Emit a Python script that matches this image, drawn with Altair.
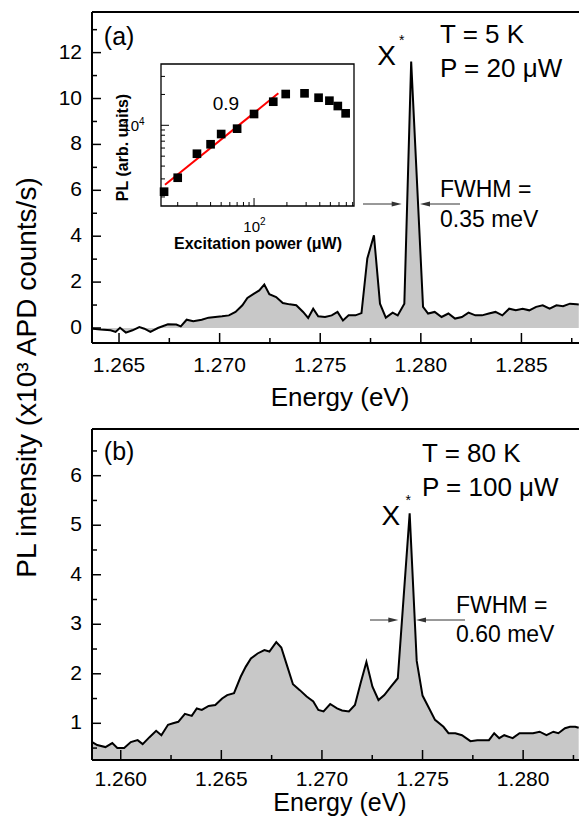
import altair as alt
import pandas as pd

# ---------------- data ----------------
# panel (a): T = 5 K, P = 20 uW
E_A = [1.26369, 1.26408, 1.26458, 1.26483, 1.26505, 1.26534, 1.26567, 1.26601, 1.26626, 1.26656,
       1.26693, 1.26743, 1.26785, 1.26807, 1.26836, 1.26869, 1.26911, 1.26945, 1.26978, 1.27012,
       1.27046, 1.27079, 1.27113, 1.27138, 1.27171, 1.27197, 1.27222, 1.27247, 1.27281, 1.27314,
       1.27348, 1.27381, 1.27415, 1.27440, 1.27465, 1.27490, 1.27524, 1.27557, 1.27586, 1.27613,
       1.27641, 1.27675, 1.27705, 1.27734, 1.27767, 1.27797, 1.27826, 1.27860, 1.27885, 1.27918,
       1.27952, 1.28011, 1.28036, 1.28069, 1.28103, 1.28137, 1.28170, 1.28204, 1.28237, 1.28271,
       1.28304, 1.28338, 1.28371, 1.28405, 1.28439, 1.28472, 1.28506, 1.28539, 1.28573, 1.28606,
       1.28640, 1.28674, 1.28707, 1.28741, 1.28774, 1.28785]
I_A = [-0.03, -0.07, -0.10, -0.17, 0.01, -0.20, -0.10, 0.04, -0.03, -0.17,
       0.00, 0.16, 0.15, 0.07, 0.36, 0.29, 0.36, 0.45, 0.48, 0.51,
       0.55, 0.70, 0.99, 1.31, 1.50, 1.64, 1.89, 1.47, 1.35, 1.09,
       1.03, 0.99, 0.70, 0.44, 0.84, 0.51, 0.48, 0.55, 0.70, 0.33,
       0.55, 0.55, 0.65, 3.03, 4.04, 1.06, 0.45, 0.67, 0.55, 1.06,
       11.61, 0.92, 0.63, 0.70, 0.48, 0.63, 0.41, 0.48, 0.67, 0.55,
       0.55, 0.63, 0.70, 0.55, 0.84, 0.77, 0.84, 0.77, 0.92, 0.99,
       0.84, 0.99, 0.95, 1.06, 1.03, 1.02]

# panel (b): T = 80 K, P = 100 uW
E_B = [1.25858, 1.25883, 1.25924, 1.25958, 1.25983, 1.26017, 1.26050, 1.26084, 1.26109, 1.26143,
       1.26176, 1.26202, 1.26235, 1.26260, 1.26286, 1.26319, 1.26353, 1.26378, 1.26403, 1.26437,
       1.26470, 1.26504, 1.26529, 1.26563, 1.26596, 1.26621, 1.26647, 1.26680, 1.26714, 1.26739,
       1.26773, 1.26798, 1.26823, 1.26856, 1.26890, 1.26924, 1.26957, 1.26982, 1.27008, 1.27041,
       1.27075, 1.27100, 1.27134, 1.27164, 1.27192, 1.27221, 1.27251, 1.27281, 1.27310, 1.27343,
       1.27377, 1.27402, 1.27436, 1.27471, 1.27500, 1.27528, 1.27562, 1.27604, 1.27629, 1.27663,
       1.27696, 1.27738, 1.27772, 1.27805, 1.27830, 1.27856, 1.27881, 1.27906, 1.27948, 1.27982,
       1.28015, 1.28049, 1.28082, 1.28116, 1.28150, 1.28175, 1.28208, 1.28233, 1.28259, 1.28276]
I_B = [0.62, 0.56, 0.52, 0.60, 0.50, 0.50, 0.62, 0.66, 0.58, 0.72,
       0.85, 0.76, 0.97, 1.00, 1.03, 1.19, 1.15, 1.30, 1.27, 1.35,
       1.37, 1.50, 1.57, 1.61, 1.94, 2.14, 2.31, 2.41, 2.48, 2.45,
       2.64, 2.53, 2.21, 1.79, 1.67, 1.54, 1.44, 1.27, 1.24, 1.39,
       1.30, 1.26, 1.24, 1.37, 1.81, 2.24, 1.74, 1.47, 1.57, 1.74,
       1.91, 3.32, 5.24, 2.26, 1.56, 1.34, 1.07, 0.93, 0.80, 0.80,
       0.76, 0.64, 0.66, 0.66, 0.66, 0.80, 0.70, 0.76, 0.70, 0.80,
       0.80, 0.80, 0.83, 0.76, 0.83, 0.80, 0.90, 0.93, 0.93, 0.91]

# inset: PL vs excitation power
POWER = [15, 20, 30, 40, 50, 70, 100, 150, 195, 290, 390, 490, 585, 690]
PL = [2250, 3080, 5280, 6530, 8220, 9270, 12890, 16990, 20190, 20510, 18580, 17380, 15420, 13090]
FIT_P = [15.3, 167]
FIT_PL = [2633, 20510]

# tick values
XA_MAJOR = [1.265, 1.270, 1.275, 1.280, 1.285]
XA_MINOR = [1.2675, 1.2725, 1.2775, 1.2825, 1.2875]
YA_MAJOR = [0, 2, 4, 6, 8, 10, 12]
YA_MINOR = [1, 3, 5, 7, 9, 11, 13]
XB_MAJOR = [1.260, 1.265, 1.270, 1.275, 1.280]
XB_MINOR = [1.2625, 1.2675, 1.2725, 1.2775, 1.2825]
YB_MAJOR = [1, 2, 3, 4, 5, 6]
YB_MINOR = [0.5, 1.5, 2.5, 3.5, 4.5, 5.5, 6.5]
IX_MAJOR = [100]
IX_MINOR = [20, 30, 40, 50, 60, 70, 80, 90, 200, 300, 400, 500, 600, 700, 800]
IY_MAJOR = [10000]
IY_MINOR = [2000, 3000, 4000, 5000, 6000, 7000, 8000, 9000, 20000, 30000]

# ---------------- layout ----------------
W, H = 487, 331
FONT = "Liberation Sans"
ONE = pd.DataFrame({"a": [0]})


def txt(s, x, y, size, align="left", weight="normal", angle=0, baseline="alphabetic"):
    return alt.Chart(pd.DataFrame({"t": [s]})).mark_text(
        font=FONT, fontSize=size, align=align, baseline=baseline, fontWeight=weight,
        angle=angle, color="black"
    ).encode(text="t:N", x=alt.value(x), y=alt.value(y))


def hline(x1, x2, y, width=2, color="black"):
    return alt.Chart(ONE).mark_rule(color=color, strokeWidth=width).encode(
        x=alt.value(x1), x2=alt.value(x2), y=alt.value(y))


def vline(x, y1, y2, width=2, color="black"):
    return alt.Chart(ONE).mark_rule(color=color, strokeWidth=width).encode(
        x=alt.value(x), y=alt.value(y1), y2=alt.value(y2))


def head(x, y, right=True):
    path = "M1,0L-1,-0.5L-1,0.5Z" if right else "M-1,0L1,-0.5L1,0.5Z"
    cx = x - 5 if right else x + 5
    return alt.Chart(ONE).mark_point(shape=path, filled=True, size=100, color="#333333",
                                     opacity=1).encode(x=alt.value(cx), y=alt.value(y))


def xticks(vals, scale, y0, length, width=1.5):
    return alt.Chart(pd.DataFrame({"v": vals})).mark_rule(color="black", strokeWidth=width).encode(
        x=alt.X("v:Q", scale=scale, axis=None), y=alt.value(y0), y2=alt.value(y0 - length))


def yticks(vals, scale, x0, length, width=1.5):
    return alt.Chart(pd.DataFrame({"v": vals})).mark_rule(color="black", strokeWidth=width).encode(
        y=alt.Y("v:Q", scale=scale, axis=None), x=alt.value(x0), x2=alt.value(x0 + length))


def xlabels(vals, scale, pad):
    return alt.Chart(pd.DataFrame({"v": vals})).mark_text(
        font=FONT, fontSize=21, baseline="top", align="center", color="black").encode(
        x=alt.X("v:Q", scale=scale, axis=None), y=alt.value(H + pad),
        text=alt.Text("v:Q", format=".3f"))


def ylabels(vals, scale):
    return alt.Chart(pd.DataFrame({"v": vals})).mark_text(
        font=FONT, fontSize=21, baseline="middle", align="right", color="black").encode(
        y=alt.Y("v:Q", scale=scale, axis=None), x=alt.value(-10),
        text=alt.Text("v:Q", format="d"))


def spectrum(E, I, xdom, ydom, xmaj, xmin, ymaj, ymin, label_pad, title_y, title_size):
    xs = alt.Scale(domain=xdom, nice=False, zero=False)
    ys = alt.Scale(domain=ydom, nice=False, zero=False)
    df = pd.DataFrame({"E": E, "I": I})
    base = alt.Chart(df)
    area = base.mark_area(color="#c8c8c8", clip=True).encode(
        x=alt.X("E:Q", scale=xs, axis=None), y=alt.Y("I:Q", scale=ys, axis=None), y2=alt.value(H))
    line = base.mark_line(color="black", strokeWidth=2, clip=True).encode(
        x=alt.X("E:Q", scale=xs, axis=None), y=alt.Y("I:Q", scale=ys, axis=None))
    ticks = [xticks(xmaj, xs, H, 10), xticks(xmin, xs, H, 5),
             yticks(ymaj, ys, 0, 9), yticks(ymin, ys, 0, 5)]
    labels = [xlabels(xmaj, xs, label_pad), ylabels(ymaj, ys),
              txt("Energy (eV)", 248, H + title_y, title_size, align="center")]
    frame = [vline(0, 0, H), hline(0, W, 0), hline(0, W, H)]
    return alt.layer(area, line, *ticks, *labels, *frame)


# ---------------- panel (a) ----------------
XDOM_A = [1.263657, 1.287861]
main_a = spectrum(E_A, I_A, XDOM_A, [-0.654, 13.77],
                  XA_MAJOR, XA_MINOR, YA_MAJOR, YA_MINOR, 12, 63, 26)

xi = alt.Scale(type="log", domain=[14.06, 823], range=[69, 262], nice=False)
yi = alt.Scale(type="log", domain=[1632, 39630], range=[194, 52], nice=False)

inset_frame = alt.Chart(ONE).mark_rect(fill="white", stroke="black", strokeWidth=1.3).encode(
    x=alt.value(69), x2=alt.value(262), y=alt.value(52), y2=alt.value(194))
fit = alt.Chart(pd.DataFrame({"p": FIT_P, "l": FIT_PL})).mark_line(color="#ff0000", strokeWidth=2).encode(
    x=alt.X("p:Q", scale=xi, axis=None), y=alt.Y("l:Q", scale=yi, axis=None))
pts = alt.Chart(pd.DataFrame({"p": POWER, "l": PL})).mark_point(
    shape="square", filled=True, size=75, color="black", opacity=1).encode(
    x=alt.X("p:Q", scale=xi, axis=None), y=alt.Y("l:Q", scale=yi, axis=None))
inset = alt.layer(
    inset_frame, fit, pts,
    xticks(IX_MAJOR, xi, 194, 8, 1), xticks(IX_MINOR, xi, 194, 4, 1),
    yticks(IY_MAJOR, yi, 69, 8, 1), yticks(IY_MINOR, yi, 69, 4, 1),
    txt("0.9", 120.7, 98, 19),
    txt("10", 168, 220, 15, align="right"), txt("2", 168, 213, 10),
    txt("Excitation power (μW)", 166, 237, 16, align="center", weight="bold"),
    txt("10", 47, 119, 15, align="right"), txt("4", 47, 113, 10),
    txt("PL (arb. units)", 31, 135.5, 16, align="center", weight="bold", angle=270, baseline="middle"),
)

annot_a = alt.layer(
    txt("(a)", 11.8, 33, 25),
    txt("X", 294.7, 53, 28, align="center"),
    txt("*", 309.7, 33, 14, align="center"),
    txt("T = 5 K", 348, 30.7, 26),
    txt("P = 20 μW", 348, 65.3, 26),
    txt("FWHM =", 348, 185.3, 23),
    txt("0.35 meV", 348, 214.7, 23),
    hline(271, 305, 192, 1, "#333333"), head(309.7, 192, True),
    hline(332, 368, 192, 1, "#333333"), head(328, 192, False),
    txt("PL intensity (x10³ APD counts/s)", -64, 365.5, 28, align="center", angle=270, baseline="middle"),
    alt.Chart(ONE).mark_rect(opacity=0).encode(
        x=alt.value(-84), x2=alt.value(W), y=alt.value(-4), y2=alt.value(H)),
)

top = alt.layer(main_a, inset, annot_a).resolve_scale(
    x="independent", y="independent").properties(width=W, height=H)

# ---------------- panel (b) ----------------
XDOM_B = [1.258572, 1.282776]
main_b = spectrum(E_B, I_B, XDOM_B, [0.259, 6.943],
                  XB_MAJOR, XB_MINOR, YB_MAJOR, YB_MINOR, 9, 51, 25)

annot_b = alt.layer(
    txt("(b)", 11.8, 31, 25),
    txt("T = 80 K", 330, 32.7, 26),
    txt("P = 100 μW", 330, 67, 26),
    txt("X", 298.8, 96, 28, align="center"),
    txt("*", 316.3, 75.7, 14, align="center"),
    txt("FWHM =", 364, 183.7, 23),
    txt("0.60 meV", 364, 212.7, 23),
    hline(278, 302, 191, 1, "#333333"), head(306.3, 191, True),
    hline(328, 373, 191, 1, "#333333"), head(324, 191, False),
    alt.Chart(ONE).mark_rect(opacity=0).encode(
        x=alt.value(-84), x2=alt.value(W), y=alt.value(0), y2=alt.value(H + 56)),
)

bottom = alt.layer(main_b, annot_b).properties(width=W, height=H)

chart = alt.vconcat(top, bottom, spacing=86, bounds="flush").properties(
    padding=0
).configure_view(stroke=None)

chart.save("out.html", embed_options={"renderer": "svg", "actions": False})
